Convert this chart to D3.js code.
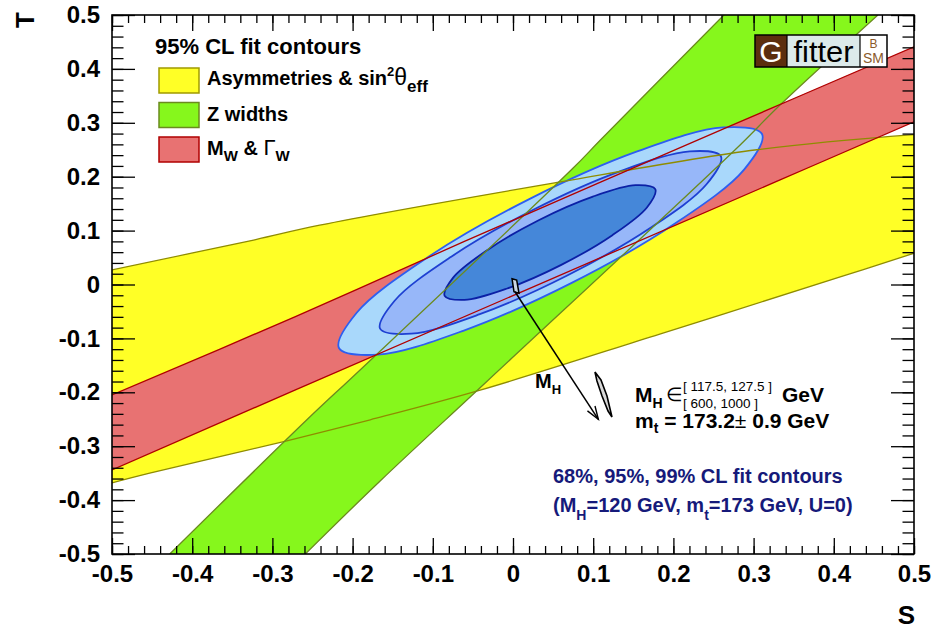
<!DOCTYPE html>
<html>
<head>
<meta charset="utf-8">
<script src="https://cdn.jsdelivr.net/npm/d3@7"></script>
<style>
  body { margin: 0; background: #fff; }
  svg text { font-family: "Liberation Sans", Arial, Helvetica, sans-serif; }
</style>
</head>
<body>
<svg id="chart" width="933" height="629"></svg>
<script>
// ---------- axis ticks ----------
const sTicks = [-0.5, -0.4, -0.3, -0.2, -0.1, 0, 0.1, 0.2, 0.3, 0.4, 0.5];
const sTickLabels = ["-0.5", "-0.4", "-0.3", "-0.2", "-0.1", "0", "0.1", "0.2", "0.3", "0.4", "0.5"];
const tTicks = [-0.5, -0.4, -0.3, -0.2, -0.1, 0, 0.1, 0.2, 0.3, 0.4, 0.5];
const tTickLabels = ["-0.5", "-0.4", "-0.3", "-0.2", "-0.1", "0", "0.1", "0.2", "0.3", "0.4", "0.5"];

// ---------- 95% CL bands, edges as (S, T) ----------
// Asymmetries & sin^2(theta_eff)
const asymUpper = [[-0.5, 0.027], [-0.322, 0.083], [-0.241, 0.110], [0.050, 0.188], [0.304, 0.250], [0.5, 0.278]];
const asymLower = [[-0.5, -0.368], [-0.453, -0.350], [-0.282, -0.290], [-0.178, -0.251], [-0.041, -0.196],
                   [0.183, -0.092], [0.408, 0.014], [0.5, 0.058]];
// Z widths
const zLeft  = [[-0.428, -0.5], [-0.257, -0.251], [-0.191, -0.159], [0.075, 0.216], [0.109, 0.268], [0.263, 0.5]];
const zRight = [[-0.259, -0.5], [-0.166, -0.365], [-0.032, -0.179], [0.277, 0.250], [0.333, 0.333], [0.455, 0.5]];
// M_W & Gamma_W
const mwUpper = [[-0.5, -0.205], [-0.272, -0.060], [-0.062, 0.079], [0.274, 0.296], [0.5, 0.441]];
const mwLower = [[-0.5, -0.344], [-0.272, -0.196], [0.333, 0.194], [0.5, 0.302]];

// ---------- full fit contours (S, T) ----------
const cl99 = [[0.3105, 0.2792], [0.2884, 0.2137], [0.2015, 0.1126], [0.0732, 0.0030], [-0.0621, -0.0859],
              [-0.1685, -0.1302], [-0.2170, -0.1178], [-0.1949, -0.0525], [-0.1080, 0.0488], [0.0203, 0.1584],
              [0.1557, 0.2473], [0.2620, 0.2915]];
const cl95 = [[0.2592, 0.2379], [0.2413, 0.1859], [0.1711, 0.1048], [0.0676, 0.0167], [-0.0414, -0.0551],
              [-0.1268, -0.0913], [-0.1657, -0.0820], [-0.1476, -0.0301], [-0.0776, 0.0510], [0.0259, 0.1392],
              [0.1349, 0.2109], [0.2205, 0.2471]];
const cl68 = [[0.1774, 0.1768], [0.1670, 0.1429], [0.1239, 0.0915], [0.0602, 0.0365], [-0.0072, -0.0074],
              [-0.0605, -0.0286], [-0.0852, -0.0210], [-0.0746, 0.0128], [-0.0317, 0.0642], [0.0320, 0.1193],
              [0.0996, 0.1631], [0.1529, 0.1842]];

// ---------- SM prediction for the two Higgs mass ranges ----------
const smLowMH  = [[-0.0012, 0.0108], [0.0046, 0.0083], [0.0075, -0.0163], [0.0012, -0.0134]];
const smHighMH = [[0.1022, -0.1623], [0.1097, -0.1772], [0.1172, -0.2069], [0.1234, -0.2458],
                  [0.1185, -0.2347], [0.1110, -0.2069], [0.1047, -0.1790]];
const mhArrow  = [[0.0025, -0.0134], [0.1064, -0.2501]];

// ---------- styles ----------
const col = {
  asymFill: "#ffff26", asymLine: "#8f8c00",
  zFill: "#86f71c", zLine: "#6b8a1e",
  mwFill: "#e87272", mwLine: "#b00000",
  cl99Fill: "#a9d8fb", cl99Line: "#2d5ff0",
  cl95Fill: "#97b7f9", cl95Line: "#1e40d2",
  cl68Fill: "#4587d9", cl68Line: "#0b20a6",
  navy: "#161a7a", brown: "#5c2e0e"
};

const svg = d3.select("#chart");
const plot = { left: 112, right: 914, top: 15, bottom: 554 };
const x = d3.scaleLinear().domain([-0.5, 0.5]).range([plot.left, plot.right]);
const y = d3.scaleLinear().domain([-0.5, 0.5]).range([plot.bottom, plot.top]);

const defs = svg.append("defs");
defs.append("clipPath").attr("id", "plotClip").append("rect")
  .attr("x", plot.left).attr("y", plot.top)
  .attr("width", plot.right - plot.left).attr("height", plot.bottom - plot.top);
defs.append("marker").attr("id", "arrowHead")
  .attr("viewBox", "-15 -8 17 16").attr("refX", 0).attr("refY", 0)
  .attr("markerWidth", 17).attr("markerHeight", 16)
  .attr("markerUnits", "userSpaceOnUse").attr("orient", "auto")
  .append("path").attr("d", "M-13,-4.5L0,0L-13,4.5")
  .attr("fill", "none").attr("stroke", "#000").attr("stroke-width", 1.4);

const edge = d3.line().x(d => x(d[0])).y(d => y(d[1])).curve(d3.curveCatmullRom);
const closed = d3.line().x(d => x(d[0])).y(d => y(d[1])).curve(d3.curveCatmullRomClosed);
const poly = d3.line().x(d => x(d[0])).y(d => y(d[1]));
const band = (a, b) => edge(a) + edge(b.slice().reverse()).replace(/^M/, "L") + "Z";

const g = svg.append("g").attr("clip-path", "url(#plotClip)");

// band fills
g.append("path").attr("d", band(asymUpper, asymLower)).attr("fill", col.asymFill);
g.append("path").attr("d", band(zLeft, zRight)).attr("fill", col.zFill);
g.append("path").attr("d", band(mwUpper, mwLower)).attr("fill", col.mwFill);

// fit contours
[[cl99, col.cl99Fill, col.cl99Line], [cl95, col.cl95Fill, col.cl95Line], [cl68, col.cl68Fill, col.cl68Line]]
  .forEach(([pts, f, s]) => {
    g.append("path").attr("d", closed(pts)).attr("fill", f)
      .attr("stroke", s).attr("stroke-width", 1.8);
  });

// band edges on top
[[asymUpper, col.asymLine], [asymLower, col.asymLine], [zLeft, col.zLine], [zRight, col.zLine],
 [mwUpper, col.mwLine], [mwLower, col.mwLine]].forEach(([pts, s]) => {
  g.append("path").attr("d", edge(pts)).attr("fill", "none")
    .attr("stroke", s).attr("stroke-width", 1.3);
});

// SM prediction
g.append("path").attr("d", poly(smLowMH) + "Z").attr("fill", "#c9d6e6")
  .attr("stroke", "#000").attr("stroke-width", 1.5);
g.append("path").attr("d", poly(smHighMH) + "Z").attr("fill", "#d8d8d8")
  .attr("stroke", "#000").attr("stroke-width", 1.6);
g.append("path").attr("d", poly(mhArrow)).attr("fill", "none")
  .attr("stroke", "#000").attr("stroke-width", 1.5).attr("marker-end", "url(#arrowHead)");

// ---------- axes (ticks inside on all four sides) ----------
function styleAxis(sel) {
  sel.select(".domain").remove();
  sel.selectAll(".tick line").attr("stroke", "#000").attr("stroke-width", 1.3);
  sel.selectAll("text").attr("fill", "#000").attr("font-size", 24).attr("font-weight", "bold")
    .attr("font-family", '"Liberation Sans", Arial, sans-serif');
}
const xMinor = x.ticks(50), yMinor = y.ticks(50);

svg.append("g").attr("transform", `translate(0,${plot.bottom})`)
  .call(d3.axisBottom(x).tickValues(xMinor).tickSize(-8).tickFormat("")).call(styleAxis);
svg.append("g").attr("transform", `translate(0,${plot.bottom})`)
  .call(d3.axisBottom(x).tickValues(sTicks).tickSize(-16).tickPadding(11)
    .tickFormat((d, i) => sTickLabels[i])).call(styleAxis);
svg.append("g").attr("transform", `translate(0,${plot.top})`)
  .call(d3.axisTop(x).tickValues(xMinor).tickSize(-8).tickFormat("")).call(styleAxis);
svg.append("g").attr("transform", `translate(0,${plot.top})`)
  .call(d3.axisTop(x).tickValues(sTicks).tickSize(-16).tickFormat("")).call(styleAxis);

svg.append("g").attr("transform", `translate(${plot.left},0)`)
  .call(d3.axisLeft(y).tickValues(yMinor).tickSize(-11.5).tickFormat("")).call(styleAxis);
svg.append("g").attr("transform", `translate(${plot.left},0)`)
  .call(d3.axisLeft(y).tickValues(tTicks).tickSize(-23).tickPadding(12)
    .tickFormat((d, i) => tTickLabels[i])).call(styleAxis);
svg.append("g").attr("transform", `translate(${plot.right},0)`)
  .call(d3.axisRight(y).tickValues(yMinor).tickSize(-11.5).tickFormat("")).call(styleAxis);
svg.append("g").attr("transform", `translate(${plot.right},0)`)
  .call(d3.axisRight(y).tickValues(tTicks).tickSize(-23).tickFormat("")).call(styleAxis);

svg.append("rect").attr("x", plot.left).attr("y", plot.top)
  .attr("width", plot.right - plot.left).attr("height", plot.bottom - plot.top)
  .attr("fill", "none").attr("stroke", "#000").attr("stroke-width", 1.6);

// axis titles
svg.append("text").attr("transform", "translate(34,20) rotate(-90)")
  .attr("text-anchor", "middle").attr("font-size", 26).attr("font-weight", "bold").text("T");
svg.append("text").attr("x", 915).attr("y", 624).attr("text-anchor", "end")
  .attr("font-size", 26).attr("font-weight", "bold").text("S");

// ---------- legend ----------
const leg = svg.append("g").attr("font-weight", "bold");
leg.append("text").attr("x", 155).attr("y", 54).attr("font-size", 22).text("95% CL fit contours");
const legendBoxes = [[col.asymFill, "#a09a00"], [col.zFill, col.zLine], [col.mwFill, col.mwLine]];
legendBoxes.forEach(([f, s], i) => {
  leg.append("rect").attr("x", 159).attr("y", 68 + i * 34.5).attr("width", 40).attr("height", 25)
    .attr("fill", f).attr("stroke", s).attr("stroke-width", 1.5);
});
const t1 = leg.append("text").attr("x", 207).attr("y", 85).attr("font-size", 20);
t1.append("tspan").text("Asymmetries & sin");
t1.append("tspan").attr("font-size", 13).attr("dy", -9).text("2");
t1.append("tspan").attr("font-size", 23).attr("dy", 9).attr("font-weight", "normal").text("θ");
t1.append("tspan").attr("font-size", 17).attr("dy", 7).text("eff");
leg.append("text").attr("x", 207).attr("y", 121).attr("font-size", 20).text("Z widths");
const t3 = leg.append("text").attr("x", 207).attr("y", 155).attr("font-size", 20);
t3.append("tspan").text("M");
t3.append("tspan").attr("font-size", 15).attr("dy", 6).text("W");
t3.append("tspan").attr("dy", -6).text(" & ");
t3.append("tspan").attr("font-weight", "normal").attr("font-size", 22).text("Γ");
t3.append("tspan").attr("font-size", 15).attr("dy", 6).text("W");

// ---------- Gfitter logo ----------
const logo = svg.append("g");
logo.append("rect").attr("x", 755).attr("y", 35).attr("width", 32).attr("height", 32).attr("fill", col.brown);
logo.append("rect").attr("x", 787).attr("y", 35).attr("width", 73).attr("height", 32).attr("fill", "#dceaea");
logo.append("rect").attr("x", 860).attr("y", 35).attr("width", 27).attr("height", 32).attr("fill", "#fff");
logo.append("rect").attr("x", 755).attr("y", 35).attr("width", 132).attr("height", 32)
  .attr("fill", "none").attr("stroke", "#000").attr("stroke-width", 1.5);
logo.append("line").attr("x1", 787).attr("x2", 787).attr("y1", 35).attr("y2", 67).attr("stroke", "#000").attr("stroke-width", 1.2);
logo.append("line").attr("x1", 860).attr("x2", 860).attr("y1", 35).attr("y2", 67).attr("stroke", "#000").attr("stroke-width", 1.2);
logo.append("text").attr("x", 771).attr("y", 62).attr("text-anchor", "middle").attr("font-size", 30)
  .attr("fill", "#fff").text("G");
logo.append("text").attr("x", 823.5).attr("y", 62).attr("text-anchor", "middle").attr("font-size", 30)
  .attr("textLength", 60).attr("lengthAdjust", "spacingAndGlyphs")
  .attr("fill", "#000").text("fitter");
logo.append("text").attr("x", 873.5).attr("y", 48).attr("text-anchor", "middle").attr("font-size", 12)
  .attr("fill", "#8b5a2b").text("B");
logo.append("text").attr("x", 873.5).attr("y", 63).attr("text-anchor", "middle").attr("font-size", 14)
  .attr("fill", "#8b5a2b").text("SM");

// ---------- annotations ----------
const mhLab = svg.append("text").attr("x", 535).attr("y", 388).attr("font-size", 20).attr("font-weight", "bold");
mhLab.append("tspan").text("M");
mhLab.append("tspan").attr("font-size", 13).attr("dy", 6).text("H");

const a1 = svg.append("text").attr("x", 635).attr("y", 402).attr("font-size", 21).attr("font-weight", "bold");
a1.append("tspan").text("M");
a1.append("tspan").attr("font-size", 14).attr("dy", 6).text("H");
svg.append("text").attr("x", 666).attr("y", 401).attr("font-size", 19).text("∈");
svg.append("text").attr("x", 683).attr("y", 391).attr("font-size", 13.5).text("[ 117.5, 127.5 ]");
svg.append("text").attr("x", 683).attr("y", 408).attr("font-size", 13.5).text("[ 600, 1000 ]");
svg.append("text").attr("x", 782).attr("y", 402).attr("font-size", 21).attr("font-weight", "bold").text("GeV");

const a2 = svg.append("text").attr("x", 635).attr("y", 428).attr("font-size", 21).attr("font-weight", "bold");
a2.append("tspan").text("m");
a2.append("tspan").attr("font-size", 14).attr("dy", 5).text("t");
a2.append("tspan").attr("dy", -5).text(" = 173.2");
a2.append("tspan").attr("font-weight", "normal").text("±");
a2.append("tspan").text(" 0.9 GeV");

svg.append("text").attr("x", 553).attr("y", 483).attr("font-size", 20)
  .attr("font-weight", "bold").attr("fill", col.navy).text("68%, 95%, 99% CL fit contours");
const n2 = svg.append("text").attr("x", 553).attr("y", 512).attr("font-size", 20)
  .attr("font-weight", "bold").attr("fill", col.navy);
n2.append("tspan").text("(M");
n2.append("tspan").attr("font-size", 14).attr("dy", 8).text("H");
n2.append("tspan").attr("dy", -8).text("=120 GeV, m");
n2.append("tspan").attr("font-size", 14).attr("dy", 8).text("t");
n2.append("tspan").attr("dy", -8).text("=173 GeV, U=0)");
</script>
</body>
</html>
